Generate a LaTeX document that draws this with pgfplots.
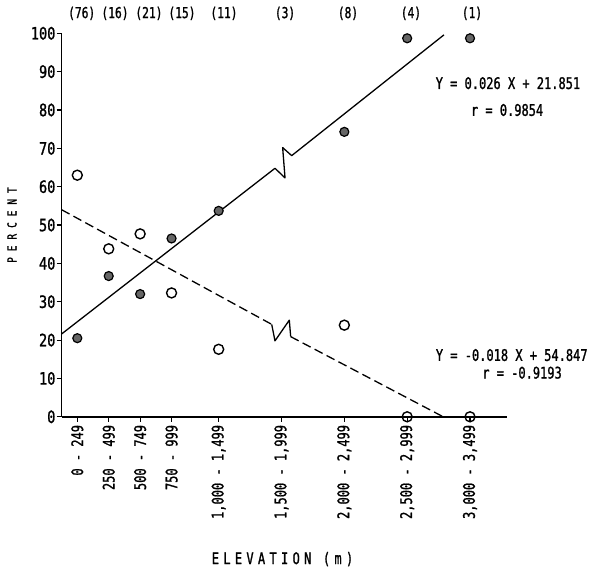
\documentclass[border=0pt]{standalone}
\usepackage{fontspec}
\setmainfont{DejaVu Sans Mono}[FakeStretch=0.75, FakeBold=1.2]
\newfontfamily\tickfont{DejaVu Sans Mono}[FakeStretch=0.8, FakeBold=1.2]
\usepackage{pgfplots}
\pgfplotsset{compat=1.18}
\begin{document}
\begin{tikzpicture}
\useasboundingbox (0,0) rectangle (600pt,573pt);
\begin{axis}[
  at={(61.6pt,156.2pt)}, anchor=south west,
  scale only axis, width=445.1pt, height=383.5pt,
  xmin=0, xmax=3542, ymin=0, ymax=100,
  axis x line=bottom, axis y line=left,
  axis line style={-, line width=1.4pt},
  tick align=outside, major tick length=5pt,
  tick style={black, line width=1.1pt},
  xtick={125,375,625,875,1250,1750,2250,2750,3250},
  xticklabels={0 - 249, 250 - 499, 500 - 749, 750 - 999, {1,000 - 1,499}, {1,500 - 1,999}, {2,000 - 2,499}, {2,500 - 2,999}, {3,000 - 3,499}},
  xticklabel style={rotate=90, anchor=east, font=\fontsize{16}{16}\selectfont, inner sep=3pt},
  ytick={0,10,...,100},
  yticklabel style={font=\tickfont\fontsize{17}{17}\selectfont, inner xsep=1pt},
  /pgf/number format/assume math mode=true,
  clip=false,
]
% regression lines
\addplot[black, line width=1.3pt, line join=round] coordinates {(0,21.6) (1698,64.8) (1778,62.3) (1759,70.2) (1831,68.1) (3043,99.6)};
\addplot[black, line width=1.3pt, dash pattern=on 9pt off 4.5pt] coordinates {(0,54.0) (1672,24.1)};
\addplot[black, line width=1.3pt, line join=round] coordinates {(1672,24.1) (1698,19.8) (1812,25.2) (1823,20.9)};
\addplot[black, line width=1.3pt, dash pattern=on 9pt off 4.5pt] coordinates {(1823,20.9) (3037,0)};
% filled points
\addplot[only marks, mark=*, mark size=4.5pt, mark options={fill=black!60, draw=black, line width=1.2pt}] coordinates {(125,20.5) (375,36.7) (625,32.0) (875,46.5) (1250,53.7) (2250,74.3) (2750,98.7) (3250,98.7)};
% open points
\addplot[only marks, mark=o, mark size=5pt, mark options={fill=white, draw=black, line width=1.4pt}] coordinates {(125,63.0) (375,43.8) (625,47.7) (875,32.3) (1250,17.6) (2250,23.9) (2750,0) (3250,0)};
% counts
\foreach \x/\t in {160/(76), 425/(16), 695/(21), 958/(15), 1292/(11), 1778/(3), 2279/(8), 2780/(4), 3266/(1)}{
  \edef\tmp{\noexpand\node[font=\noexpand\fontsize{15}{15}\noexpand\selectfont] at (axis cs:\x,105.2) {\t};}\tmp
}
% equations
\node[font=\fontsize{16}{16}\selectfont] at (axis cs:3552,87.0) {Y = 0.026 X + 21.851};
\node[font=\fontsize{16}{16}\selectfont] at (axis cs:3545,80.0) {r = 0.9854};
\node[font=\fontsize{16}{16}\selectfont] at (axis cs:3582,16.1) {Y = -0.018 X + 54.847};
\node[font=\fontsize{16}{16}\selectfont] at (axis cs:3664,11.5) {r = -0.9193};
% axis labels
\node[rotate=90, font=\fontsize{12.5}{12.5}\selectfont\addfontfeature{LetterSpace=48}] at (axis cs:-395,50) {PERCENT};
\node[font=\fontsize{16}{16}\selectfont\addfontfeature{LetterSpace=27}] at (axis cs:1758,-37.1) {ELEVATION (m)};
\end{axis}
\end{tikzpicture}
\end{document}
